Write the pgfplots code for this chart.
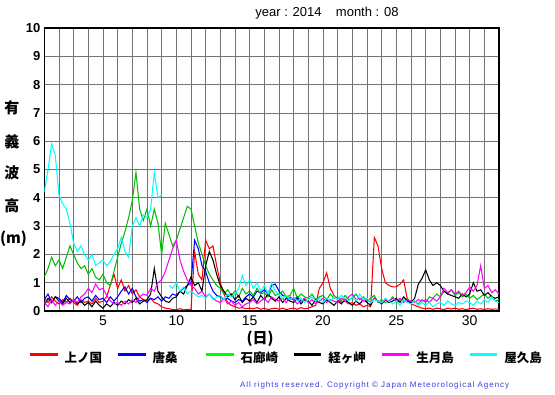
\documentclass[border=0pt]{standalone}
\usepackage{pgfplots}
\pgfplotsset{compat=1.18}
\usepackage{fontspec}
\setmainfont{Liberation Sans}
\newfontfamily\jp{Noto Sans CJK JP}
\definecolor{cred}{RGB}{255,0,0}
\definecolor{cblue}{RGB}{0,0,255}
\definecolor{cgreen}{RGB}{0,190,0}
\definecolor{lgreen}{RGB}{0,255,0}
\definecolor{cmag}{RGB}{255,0,255}
\definecolor{ccyan}{RGB}{0,255,255}
\definecolor{ccopy}{RGB}{60,60,230}
\begin{document}
\begin{tikzpicture}
\path[use as bounding box] (-44.3pt,-84pt) rectangle (510.7pt,311pt);
\begin{axis}[
  at={(0pt,0pt)}, anchor=south west,
  scale only axis, width=454.7pt, height=283pt,
  xmin=1, xmax=32, ymin=0, ymax=10,
  xtick={5,10,...,30}, ytick={0,1,...,10},
  minor xtick={1,2,...,32},
  grid=both,
  grid style={draw=black!55, line width=0.6pt},
  minor grid style={draw=black!55, line width=0.6pt},
  major tick length=0pt, minor tick length=0pt,
  axis line style={line width=1.2pt},
  /pgf/number format/assume math mode=true,
  yticklabel style={font=\bfseries\fontsize{13}{13}\selectfont, xshift=-0.5pt},
  xticklabel style={font=\fontsize{14}{14}\selectfont, yshift=-1pt},
  unbounded coords=jump,
  every axis plot/.append style={line width=1.05pt},
  legend columns=6,
  legend style={at={(0,0)}, anchor=west, xshift=-15.5pt, yshift=-47pt,
    draw=none, fill=none, inner sep=0pt, outer sep=0pt,
    nodes={inner sep=0pt, outer sep=0pt, font=\jp\bfseries\fontsize{12.5}{12.5}\selectfont},
    /tikz/column sep=0pt},
  legend cell align=left,
  legend image code/.code={\draw[line width=2.8pt] (0pt,0.33em) -- (27.5pt,0.33em); \path (34pt,0.33em);},
]
% 上ノ国
\addplot[cred] table[row sep=\\, header=false, x expr=1+0.25*\coordindex, y index=0] {
0.45\\0.3\\0.5\\0.35\\0.25\\0.4\\0.3\\0.45\\0.3\\0.2\\0.4\\0.3\\0.35\\0.25\\0.45\\0.3\\
0.35\\0.5\\0.9\\1.3\\0.8\\1.1\\0.7\\0.9\\0.6\\0.75\\0.5\\0.4\\0.35\\0.45\\0.3\\0.25\\
0.15\\0.1\\0.08\\0.05\\0.05\\0.08\\0.04\\0.06\\0.06\\2.1\\1.3\\1.1\\2.5\\2.2\\2.3\\1.6\\
1.0\\0.6\\0.3\\0.2\\0.15\\0.1\\0.12\\0.08\\0.1\\0.08\\0.12\\0.06\\0.1\\0.05\\0.08\\0.1\\
0.06\\0.1\\0.05\\0.08\\0.1\\0.06\\0.12\\0.08\\0.1\\0.15\\0.2\\0.8\\1.0\\1.35\\0.8\\0.55\\
0.4\\0.3\\0.35\\0.25\\0.3\\0.2\\0.25\\0.15\\0.2\\0.15\\2.6\\2.3\\1.5\\1.0\\0.9\\0.85\\
0.85\\0.95\\1.1\\0.4\\0.25\\0.2\\0.15\\0.1\\0.08\\0.1\\0.06\\0.1\\0.08\\0.05\\0.1\\0.07\\
0.1\\0.06\\0.08\\0.05\\0.08\\0.1\\0.06\\0.08\\0.05\\0.08\\0.06\\0.07\\0.06\\
};
\addlegendentry{\makebox[52pt][l]{上ノ国}}
% 唐桑
\addplot[cblue] table[row sep=\\, header=false, x expr=1+0.25*\coordindex, y index=0] {
0.4\\0.6\\0.3\\0.5\\0.45\\0.3\\0.55\\0.4\\0.35\\0.5\\0.3\\0.45\\0.5\\0.35\\0.55\\0.4\\
0.45\\0.3\\0.5\\0.35\\0.5\\0.7\\0.85\\0.6\\0.8\\0.5\\0.35\\0.4\\0.3\\0.45\\0.4\\0.5\\
0.35\\0.5\\0.45\\0.6\\0.55\\0.7\\0.8\\0.9\\1.0\\2.5\\2.2\\1.6\\1.4\\1.0\\0.7\\0.55\\
0.5\\0.4\\0.45\\0.35\\0.3\\0.4\\0.35\\0.5\\0.6\\0.5\\0.7\\0.65\\0.75\\0.6\\0.9\\0.95\\
0.7\\0.55\\0.5\\0.45\\0.4\\0.5\\0.35\\0.45\\
};
\addlegendentry{\makebox[52pt][l]{唐桑}}
% 石廊崎
\addplot[cgreen, legend image code/.code={\draw[line width=2.8pt, lgreen] (0pt,0.33em) -- (27.5pt,0.33em); \path (34pt,0.33em);}] table[row sep=\\, header=false, x expr=1+0.25*\coordindex, y index=0] {
1.2\\1.5\\1.9\\1.6\\1.8\\1.5\\1.9\\2.3\\2.0\\1.7\\1.5\\1.6\\1.3\\1.5\\1.2\\1.1\\
1.3\\1.0\\0.9\\1.4\\1.9\\2.4\\2.8\\3.3\\3.9\\4.9\\3.6\\3.2\\3.6\\3.0\\3.6\\3.1\\
2.0\\3.1\\2.7\\2.3\\2.5\\2.9\\3.3\\3.7\\3.6\\3.0\\2.4\\2.0\\1.6\\1.3\\1.1\\0.9\\
0.8\\0.6\\0.75\\0.55\\0.7\\0.5\\0.8\\0.6\\0.7\\0.55\\0.8\\0.6\\0.65\\0.5\\0.75\\0.55\\
0.6\\0.7\\0.5\\0.55\\0.8\\0.45\\0.6\\0.5\\0.45\\0.6\\0.4\\0.5\\0.55\\0.4\\0.6\\0.45\\
0.5\\0.35\\0.55\\0.4\\0.45\\0.6\\0.4\\0.5\\0.35\\0.45\\0.55\\0.3\\0.4\\0.3\\0.35\\0.5\\
0.3\\0.4\\0.35\\0.45\\0.3\\0.35\\0.25\\0.4\\0.3\\0.5\\0.45\\0.6\\0.5\\0.7\\0.6\\0.75\\
0.55\\0.65\\0.5\\0.6\\0.45\\0.55\\0.4\\0.5\\0.6\\0.45\\0.55\\0.35\\0.4\\
};
\addlegendentry{\makebox[52pt][l]{石廊崎}}
% 経ヶ岬
\addplot[black] table[row sep=\\, header=false, x expr=1+0.25*\coordindex, y index=0] {
0.2\\0.45\\0.3\\0.5\\0.35\\0.25\\0.45\\0.3\\0.4\\0.25\\0.35\\0.2\\0.3\\0.15\\0.35\\0.2\\
0.1\\0.25\\0.15\\0.3\\0.2\\0.35\\0.25\\0.4\\0.3\\0.45\\0.25\\0.35\\0.4\\0.6\\1.5\\0.7\\
0.5\\0.35\\0.3\\0.45\\0.5\\0.7\\0.6\\0.9\\1.2\\0.9\\1.0\\0.7\\1.6\\2.1\\1.8\\1.3\\
0.9\\0.7\\0.5\\0.6\\0.4\\0.55\\0.3\\0.45\\0.35\\0.5\\0.3\\0.55\\0.4\\0.6\\0.45\\0.35\\
0.5\\0.3\\0.45\\0.35\\0.3\\0.45\\0.25\\0.4\\0.35\\0.2\\0.4\\0.3\\0.25\\0.4\\0.3\\0.2\\
0.35\\0.25\\0.4\\0.3\\0.2\\0.35\\0.25\\0.4\\0.3\\0.2\\0.45\\0.35\\0.25\\0.4\\0.3\\0.35\\
0.45\\0.3\\0.5\\0.35\\0.3\\0.45\\0.95\\1.15\\1.45\\1.1\\0.9\\1.0\\0.9\\0.7\\0.6\\0.55\\
0.5\\0.45\\0.6\\0.5\\0.6\\1.0\\0.7\\0.75\\0.55\\0.65\\0.5\\0.45\\0.5\\
};
\addlegendentry{\makebox[52pt][l]{経ヶ岬}}
% 生月島
\addplot[cmag] table[row sep=\\, header=false, x expr=1+0.25*\coordindex, y index=0] {
0.3\\0.15\\0.4\\0.2\\0.35\\0.2\\0.3\\0.25\\0.4\\0.3\\0.5\\0.6\\0.8\\0.65\\0.95\\0.75\\
0.8\\0.55\\0.35\\0.25\\0.3\\0.2\\0.35\\0.25\\0.4\\0.3\\0.5\\0.6\\0.55\\0.8\\0.7\\1.0\\
1.1\\1.4\\1.8\\2.2\\2.5\\1.8\\1.4\\1.1\\0.9\\0.8\\0.6\\0.7\\0.5\\0.6\\0.45\\0.35\\
0.3\\0.45\\0.25\\0.35\\0.2\\0.3\\0.15\\0.25\\0.3\\0.4\\0.25\\0.35\\0.45\\0.3\\0.5\\0.4\\
0.35\\0.45\\0.3\\0.5\\0.4\\0.25\\0.35\\0.45\\0.3\\0.4\\0.25\\0.35\\0.45\\0.3\\0.4\\0.35\\
0.3\\0.45\\0.35\\0.5\\0.6\\0.4\\0.45\\0.35\\0.4\\0.3\\0.45\\0.35\\0.3\\0.4\\0.35\\0.45\\
0.35\\0.45\\0.3\\0.4\\0.35\\0.3\\0.4\\0.35\\0.4\\0.3\\0.45\\0.35\\0.5\\0.8\\0.65\\0.75\\
0.6\\0.7\\0.55\\0.65\\0.85\\0.7\\0.9\\1.6\\0.8\\0.9\\0.65\\0.75\\0.6\\
};
\addlegendentry{\makebox[52pt][l]{生月島}}
% 屋久島
\addplot[ccyan] table[row sep=\\, header=false, x expr=1+0.25*\coordindex, y index=0] {
4.2\\5.0\\5.9\\5.5\\4.1\\3.8\\3.6\\3.1\\2.4\\2.1\\2.3\\2.0\\1.8\\2.0\\1.6\\1.7\\
1.8\\1.6\\1.75\\2.0\\2.2\\2.6\\2.1\\1.9\\3.0\\3.3\\3.0\\3.4\\3.3\\3.6\\4.9\\4.0\\
4.1\\nan\\0.9\\0.8\\1.0\\0.7\\0.85\\0.6\\0.7\\0.6\\0.5\\0.55\\0.45\\0.6\\0.4\\0.5\\
0.55\\0.4\\0.6\\0.5\\0.6\\0.8\\1.25\\0.9\\1.1\\0.8\\1.0\\0.7\\0.9\\0.6\\1.0\\0.7\\
0.6\\0.45\\0.55\\0.4\\0.5\\0.35\\0.45\\0.3\\0.4\\0.5\\0.35\\0.45\\0.3\\0.45\\0.35\\0.5\\
0.4\\0.55\\0.45\\0.35\\0.5\\0.35\\0.6\\0.4\\0.45\\0.3\\0.4\\0.35\\0.3\\0.45\\0.35\\0.25\\
0.35\\0.2\\0.4\\0.3\\0.25\\0.35\\0.2\\0.3\\0.2\\0.3\\0.15\\0.25\\0.3\\0.2\\0.35\\0.25\\
0.2\\0.3\\0.25\\0.35\\0.3\\0.2\\0.35\\0.25\\0.4\\0.3\\0.5\\0.35\\0.3\\
};
\addlegendentry{\makebox[52pt][l]{屋久島}}
\end{axis}
\node[font=\fontsize{13}{13}\selectfont] at (282.7pt,298pt) {year : 2014\hspace{1.1em}month : 08};
\begin{scope}[every node/.style={font=\jp\bfseries\fontsize{15}{15}\selectfont}]
\node at (-32.3pt,203pt) {有};
\node at (-32.3pt,169pt) {義};
\node at (-32.3pt,138pt) {波};
\node at (-32.3pt,105pt) {高};
\node at (-30.8pt,72pt) {(m)};
\end{scope}
\node[font=\jp\bfseries\fontsize{15}{15}\selectfont] at (215.7pt,-28pt) {(日)};
\node[anchor=west, inner sep=0pt, text=ccopy, font=\fontsize{8}{8}\selectfont\addfontfeature{LetterSpace=12}] at (195.7pt,-74pt) {All rights reserved. Copyright © Japan Meteorological Agency};
\end{tikzpicture}
\end{document}
